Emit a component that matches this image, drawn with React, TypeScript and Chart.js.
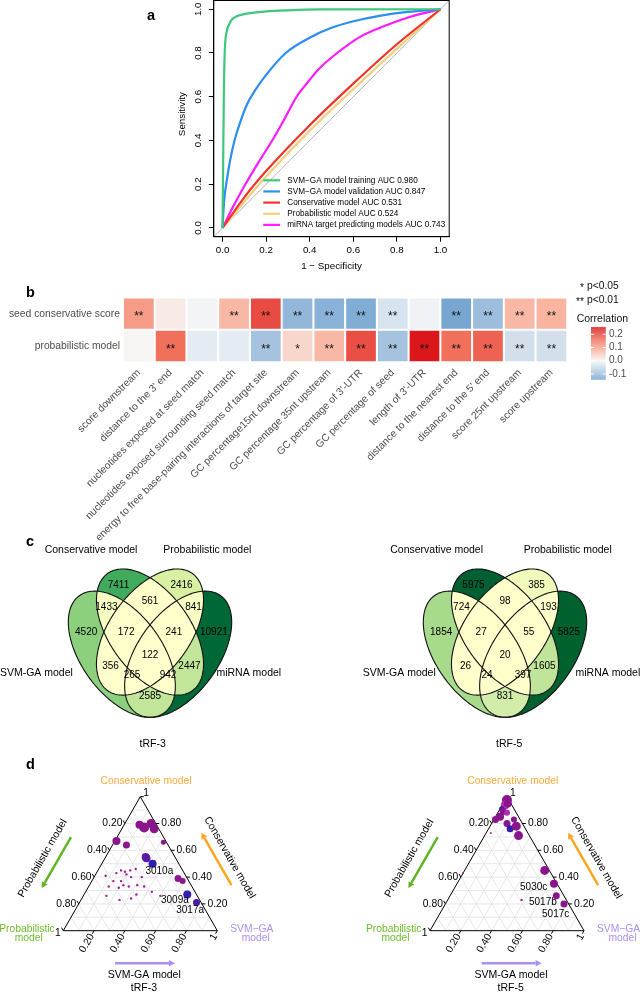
import React, { useEffect, useRef } from "react";
import { Chart, registerables } from "chart.js";

Chart.register(...registerables);

const FONT = "'Liberation Sans', Arial, Helvetica, sans-serif";
Chart.defaults.font.family = FONT;

/* ================= Panel a : ROC curves ================= */
const rocTicks = [0, 0.2, 0.4, 0.6, 0.8, 1.0];
const rocAxisMin = -0.04;
const rocAxisMax = 1.04;
const rocNames = [
  "SVM−GA model training AUC 0.980",
  "SVM−GA model validation AUC 0.847",
  "Conservative model AUC 0.531",
  "Probabilistic model AUC 0.524",
  "miRNA target predicting models AUC 0.743",
];
const svmTrainFpr = [0, 0.003, 0.006, 0.01, 0.02, 0.03, 0.045, 0.07, 0.11, 0.2, 0.3, 0.45, 1];
const svmTrainTpr = [0, 0.3, 0.6, 0.8, 0.9, 0.93, 0.955, 0.97, 0.98, 0.99, 0.995, 0.999, 1];
const svmValFpr = [0, 0.005, 0.01, 0.02, 0.035, 0.055, 0.08, 0.11, 0.15, 0.2, 0.29, 0.4, 0.5, 0.6, 0.72, 0.85, 1];
const svmValTpr = [0, 0.09, 0.15, 0.22, 0.31, 0.4, 0.48, 0.56, 0.63, 0.7, 0.8, 0.87, 0.915, 0.945, 0.97, 0.988, 1];
const consFpr = [0, 0.1, 0.2, 0.4, 0.6, 0.8, 1];
const consTpr = [0, 0.14, 0.26, 0.47, 0.66, 0.84, 1];
const probFpr = [0, 0.1, 0.2, 0.4, 0.6, 0.8, 1];
const probTpr = [0, 0.12, 0.235, 0.445, 0.635, 0.82, 1];
const mirFpr = [0, 0.02, 0.05, 0.105, 0.165, 0.228, 0.285, 0.34, 0.39, 0.44, 0.526, 0.633, 0.755, 0.862, 1];
const mirTpr = [0, 0.04, 0.1, 0.2, 0.3, 0.4, 0.5, 0.6, 0.665, 0.725, 0.8, 0.875, 0.928, 0.966, 1];
const rocFpr = [svmTrainFpr, svmValFpr, consFpr, probFpr, mirFpr];
const rocTpr = [svmTrainTpr, svmValTpr, consTpr, probTpr, mirTpr];
const diagonalX = [rocAxisMin, rocAxisMax];
const diagonalY = [rocAxisMin, rocAxisMax];
const rocColors = ["#3ec87c", "#2b8ef2", "#f5312c", "#f1d17f", "#ff1aff"];

/* ================= Panel b : correlation heatmap ================= */
const featureNames = [
  "score downstream",
  "distance to the 3' end",
  "nucleotides exposed at seed match",
  "nucleotides exposed surrounding seed match",
  "energy to free base-pairing interactions of target site",
  "GC percentage15nt downstream",
  "GC percentage 35nt upstream",
  "GC percentage of 3'-UTR",
  "GC percentage of seed",
  "length of 3'-UTR",
  "distance to the nearest end",
  "distance to the 5' end",
  "score 25nt upstream",
  "score upstream",
];
const rowNames = ["seed conservative score", "probabilistic model"];
const seedCorr = [0.11, 0.015, -0.005, 0.075, 0.2, -0.11, -0.12, -0.13, -0.035, -0.008, -0.14, -0.1, 0.075, 0.08];
const probCorr = [0.003, 0.16, -0.02, -0.02, -0.09, 0.04, 0.075, 0.195, -0.09, 0.255, 0.16, 0.175, -0.04, -0.04];
const seedSig = ["**", "", "", "**", "**", "**", "**", "**", "**", "", "**", "**", "**", "**"];
const probSig = ["", "**", "", "", "**", "*", "**", "**", "**", "**", "**", "**", "**", "**"];
const rowTickValues = [0.5, 1.5];
const colorbarTicks = [0.2, 0.1, 0.0, -0.1];
const corrStops = [-0.145, 0, 0.08, 0.16, 0.255];
const corrStopColors = ["#73a3d0", "#f7f7f7", "#f9b4a0", "#f0705c", "#dc171c"];

/* ================= Panel c : Venn diagrams ================= */
const vennSetNames = ["Conservative model", "Probabilistic model", "SVM-GA model", "miRNA model"];
const ellipseCx = [0.35, 0.5, 0.5, 0.65];
const ellipseCy = [0.47, 0.57, 0.57, 0.47];
const ellipseA = 0.35;
const ellipseB = 0.2;
const ellipseAngle = [-45, -45, 45, 45];
const regionU = [0.332, 0.668, 0.5, 0.268, 0.732, 0.16, 0.373, 0.627, 0.84, 0.5, 0.29, 0.71, 0.404, 0.596, 0.5];
const regionV = [0.78, 0.78, 0.71, 0.682, 0.682, 0.569, 0.569, 0.569, 0.569, 0.466, 0.417, 0.417, 0.373, 0.373, 0.278];
const tRF3Counts = [7411, 2416, 561, 1433, 841, 4520, 172, 241, 10921, 122, 356, 2447, 265, 942, 2585];
const tRF5Counts = [5975, 385, 98, 724, 193, 1854, 27, 55, 5825, 20, 26, 1605, 24, 397, 831];
const tRF3RegionColors = ["#41ab5d", "#d9f0a3", "#ffffcc", "#f7fcc2", "#f7fcc2", "#8ccf7d", "#ffffcc", "#ffffcc", "#006837", "#ffffcc", "#ffffcc", "#c2e699", "#ffffcc", "#ffffcc", "#c2e699"];
const tRF5RegionColors = ["#005f33", "#f1f9bb", "#ffffcc", "#ffffcc", "#ffffcc", "#a8da8c", "#ffffcc", "#ffffcc", "#00612f", "#ffffcc", "#ffffcc", "#c0e49a", "#ffffcc", "#ffffcc", "#d2ecaa"];
const tRF3SetU = [0.186, 0.805, -0.105, 1.026];
const tRF3SetV = [0.94, 0.94, 0.385, 0.385];
const tRF5SetU = [0.136, 0.834, -0.063, 1.048];
const tRF5SetV = [0.941, 0.941, 0.384, 0.384];
const vennTitleU = [0.514, 0.522];
const vennTitleV = [0.064, 0.064];

/* ================= Panel d : ternary plots ================= */
const ternTicks = [0.2, 0.4, 0.6, 0.8, 1];
const ternTickLabels = ["0.20", "0.40", "0.60", "0.80", "1"];
const ternGrid = [0.1, 0.2, 0.3, 0.4, 0.5, 0.6, 0.7, 0.8, 0.9];

const t3Cons = [0.79, 0.77, 0.8, 0.76, 0.67, 0.64, 0.66, 0.55, 0.54, 0.5, 0.39, 0.37, 0.27, 0.21,
  0.41, 0.33, 0.43, 0.45, 0.44, 0.45, 0.46, 0.42, 0.4, 0.37, 0.32, 0.34, 0.33, 0.34, 0.4, 0.33, 0.29, 0.26, 0.26, 0.23, 0.24, 0.27, 0.37];
const t3Prob = [0.11, 0.09, 0.03, 0.03, 0.32, 0.27, 0.02, 0.19, 0.19, 0.17, 0.06, 0.04, 0.06, 0.03,
  0.52, 0.54, 0.44, 0.4, 0.38, 0.34, 0.3, 0.38, 0.36, 0.49, 0.48, 0.44, 0.41, 0.35, 0.29, 0.31, 0.28, 0.24, 0.59, 0.52, 0.44, 0.39, 0.44];
const t3Svm = [0.1, 0.14, 0.17, 0.21, 0.01, 0.09, 0.32, 0.26, 0.27, 0.33, 0.55, 0.59, 0.67, 0.76,
  0.07, 0.13, 0.13, 0.15, 0.18, 0.21, 0.24, 0.2, 0.24, 0.14, 0.2, 0.22, 0.26, 0.31, 0.31, 0.36, 0.43, 0.5, 0.15, 0.25, 0.32, 0.34, 0.19];
const t3Names = ["", "", "", "", "", "", "", "", "", "3010a", "", "", "3009a", "3017a",
  "", "", "", "", "", "", "", "", "", "", "", "", "", "", "", "", "", "", "", "", "", "", ""];
const t3Size = [4, 5, 4.5, 4.5, 4, 3.5, 2.5, 4, 4, 4, 3.5, 3, 4, 3.5,
  1.2, 1.2, 1.2, 1.2, 1.2, 1.2, 1.2, 1.2, 1.2, 1.2, 1.2, 1.2, 1.2, 1.2, 1.2, 1.2, 1.2, 1.2, 1.2, 1.2, 1.2, 1.2, 1.2];
const PUR = "#8a168c", VIO = "#5b1aa8", BLU = "#2f1fb4", VI2 = "#4a1aa6", MAG = "#a0209a", PNK = "#b02cb0";
const t3Color = [PUR, PUR, PUR, PUR, PUR, PUR, PUR, VIO, VIO, BLU, PUR, PUR, BLU, VI2,
  MAG, MAG, MAG, MAG, MAG, MAG, MAG, MAG, MAG, MAG, MAG, MAG, MAG, MAG, MAG, MAG, MAG, MAG, MAG, MAG, MAG, MAG, MAG];

const t5Cons = [0.975, 0.94, 0.95, 0.91, 0.89, 0.85, 0.83, 0.88, 0.83, 0.8, 0.76, 0.78, 0.71, 0.73, 0.45, 0.35, 0.26, 0.2, 0.23, 0.43];
const t5Prob = [0.013, 0.04, 0.02, 0.08, 0.08, 0.12, 0.16, 0.06, 0.04, 0.1, 0.1, 0.05, 0.07, 0.24, 0.03, 0.02, 0.05, 0.03, 0.29, 0.57];
const t5Svm = [0.012, 0.02, 0.03, 0.01, 0.03, 0.03, 0.01, 0.06, 0.13, 0.1, 0.14, 0.17, 0.22, 0.03, 0.52, 0.63, 0.69, 0.77, 0.48, 0.0];
const t5Names = ["", "", "", "", "", "", "", "", "", "", "", "", "", "", "", "5030c", "5017b", "5017c", "", ""];
const t5Size = [5, 4.5, 4, 2.5, 3.5, 4, 3.5, 3, 3, 3.5, 3.5, 4.5, 4.5, 1, 4.5, 4, 3.5, 3.5, 1.2, 1];
const t5Color = [PUR, PNK, PUR, BLU, PUR, PUR, PUR, PNK, PUR, PUR, BLU, PUR, PUR, MAG, PUR, PUR, PUR, PUR, MAG, MAG];
const pointLabelOffsets: Record<string, number[]> = {
  "3010a": [6.7, 7.7],
  "3009a": [-12.4, 5.7],
  "3017a": [-6.4, 7.3],
  "5030c": [-20.3, 3.3],
  "5017b": [-13.4, 6.6],
  "5017c": [-8.3, 10],
};

/* ================= helpers ================= */
function hexToRgb(h: string) {
  const n = parseInt(h.slice(1), 16);
  return [(n >> 16) & 255, (n >> 8) & 255, n & 255];
}
function corrColor(v: number) {
  const s = corrStops;
  if (v <= s[0]) return corrStopColors[0];
  if (v >= s[s.length - 1]) return corrStopColors[s.length - 1];
  let i = 0;
  while (v > s[i + 1]) i++;
  const t = (v - s[i]) / (s[i + 1] - s[i]);
  const a = hexToRgb(corrStopColors[i]);
  const b = hexToRgb(corrStopColors[i + 1]);
  const c = a.map((x, k) => Math.round(x + (b[k] - x) * t));
  return `rgb(${c[0]},${c[1]},${c[2]})`;
}
function drawLetter(ctx: any, letter: string, x: number, y: number) {
  ctx.save();
  ctx.fillStyle = "#000";
  ctx.font = `bold 14.5px ${FONT}`;
  ctx.textAlign = "left";
  ctx.textBaseline = "middle";
  ctx.fillText(letter, x, y);
  ctx.restore();
}
const SQ = Math.sqrt(3) / 2;
function ternXY(c: number, p: number, s: number) {
  const t = c + p + s;
  return { x: (s + c / 2) / t, y: (c * SQ) / t };
}
function arrow(ctx: any, x1: number, y1: number, x2: number, y2: number, color: string) {
  const ang = Math.atan2(y2 - y1, x2 - x1);
  const hl = 6, hw = 3.3;
  const bx = x2 - hl * Math.cos(ang), by = y2 - hl * Math.sin(ang);
  ctx.save();
  ctx.strokeStyle = color;
  ctx.lineWidth = 2.4;
  ctx.beginPath();
  ctx.moveTo(x1, y1);
  ctx.lineTo(bx, by);
  ctx.stroke();
  ctx.fillStyle = color;
  ctx.beginPath();
  ctx.moveTo(x2, y2);
  ctx.lineTo(bx - hw * Math.sin(ang), by + hw * Math.cos(ang));
  ctx.lineTo(bx + hw * Math.sin(ang), by - hw * Math.cos(ang));
  ctx.closePath();
  ctx.fill();
  ctx.restore();
}

/* ================= configs ================= */
function makeRocConfig() {
  const datasets: any[] = rocNames.map((name, i) => ({
    label: name,
    data: rocFpr[i].map((x, j) => ({ x, y: rocTpr[i][j] })),
    borderColor: rocColors[i],
    borderWidth: 2.2,
    pointRadius: 0,
    fill: false,
    cubicInterpolationMode: "monotone",
    inLegend: true,
  }));
  datasets.push({
    label: "reference",
    data: diagonalX.map((x, j) => ({ x, y: diagonalY[j] })),
    borderColor: "#b4b4b4",
    borderWidth: 1,
    pointRadius: 0,
    fill: false,
    inLegend: false,
  });
  const plugin = {
    id: "rocDecor",
    afterDraw(chart: any) {
      const { ctx, chartArea: ca, scales } = chart;
      ctx.save();
      ctx.strokeStyle = "#000";
      ctx.lineWidth = 1;
      ctx.strokeRect(ca.left, ca.top, ca.right - ca.left, ca.bottom - ca.top);
      ctx.fillStyle = "#000";
      ctx.font = `9.8px ${FONT}`;
      ctx.textAlign = "center";
      ctx.textBaseline = "middle";
      rocTicks.forEach((v) => {
        const y = scales.y.getPixelForValue(v);
        ctx.save();
        ctx.translate(ca.left - 15.5, y);
        ctx.rotate(-Math.PI / 2);
        ctx.fillText(v.toFixed(1), 0, 0);
        ctx.restore();
      });
      ctx.save();
      ctx.translate(ca.left - 31.1, (ca.top + ca.bottom) / 2 - 4.5);
      ctx.rotate(-Math.PI / 2);
      ctx.fillText("Sensitivity", 0, 0);
      ctx.restore();
      ctx.font = `8.2px ${FONT}`;
      ctx.textAlign = "left";
      const x0 = 123.3, y0 = 180.3, dy = 11.15;
      chart.data.datasets
        .filter((d: any) => d.inLegend)
        .forEach((d: any, i: number) => {
          const y = y0 + i * dy;
          ctx.strokeStyle = d.borderColor;
          ctx.lineWidth = 2.2;
          ctx.beginPath();
          ctx.moveTo(x0, y);
          ctx.lineTo(x0 + 16.7, y);
          ctx.stroke();
          ctx.fillStyle = "#000";
          ctx.fillText(d.label, x0 + 24, y);
        });
      ctx.restore();
      drawLetter(ctx, "a", 7, 16);
    },
  };
  return {
    type: "line",
    data: { datasets },
    options: {
      animation: false,
      responsive: false,
      layout: { padding: { left: 36.4, top: 0.5, right: 30.8, bottom: 0 } },
      plugins: { legend: { display: false }, tooltip: { enabled: false } },
      scales: {
        x: {
          type: "linear",
          min: rocAxisMin,
          max: rocAxisMax,
          afterBuildTicks: (s: any) => {
            s.ticks = rocTicks.map((v) => ({ value: v }));
          },
          afterFit: (s: any) => {
            s.height = 35.3;
          },
          ticks: {
            color: "#000",
            font: { size: 9.8, family: FONT },
            padding: 3,
            maxRotation: 0,
            autoSkip: false,
            callback: (v: any) => Number(v).toFixed(1),
          },
          grid: { display: true, drawOnChartArea: false, drawTicks: true, tickLength: 5, color: "#000", lineWidth: 1 },
          border: { display: true, color: "#000", width: 1 },
          title: { display: true, text: "1 − Specificity", color: "#000", font: { size: 9.8, family: FONT }, padding: { top: 0, bottom: 0 } },
        },
        y: {
          type: "linear",
          min: rocAxisMin,
          max: rocAxisMax,
          afterBuildTicks: (s: any) => {
            s.ticks = rocTicks.map((v) => ({ value: v }));
          },
          afterFit: (s: any) => {
            s.width = 37.4;
          },
          ticks: { display: false },
          grid: { display: true, drawOnChartArea: false, drawTicks: true, tickLength: 5, color: "#000", lineWidth: 1 },
          border: { display: true, color: "#000", width: 1 },
        },
      },
    },
    plugins: [plugin],
  };
}

function makeHeatConfig() {
  const plugin = {
    id: "heatDecor",
    afterDatasetsDraw(chart: any) {
      const { ctx } = chart;
      ctx.save();
      ctx.fillStyle = "#111";
      ctx.font = `12px ${FONT}`;
      ctx.textAlign = "center";
      ctx.textBaseline = "alphabetic";
      chart.data.datasets.forEach((ds: any, di: number) => {
        const meta = chart.getDatasetMeta(di);
        meta.data.forEach((el: any, j: number) => {
          const s = ds.sig[j];
          if (!s) return;
          const cy = (el.y + el.base) / 2;
          ctx.fillText(s, el.x, cy + 6.8);
        });
      });
      ctx.restore();
    },
    afterDraw(chart: any) {
      const { ctx } = chart;
      ctx.save();
      ctx.fillStyle = "#111";
      ctx.font = `10.3px ${FONT}`;
      ctx.textBaseline = "alphabetic";
      ctx.textAlign = "right";
      ctx.fillText("*", 584, 13);
      ctx.fillText("**", 584, 26.7);
      ctx.textAlign = "left";
      ctx.textBaseline = "middle";
      ctx.fillText("p<0.05", 587, 8);
      ctx.fillText("p<0.01", 587, 21.7);
      ctx.font = `10.5px ${FONT}`;
      ctx.fillText("Correlation", 576.7, 40.7);
      const all = seedCorr.concat(probCorr);
      const vmin = Math.min(...all), vmax = Math.max(...all);
      const yv = (v: number) => 82.7 - v * 132;
      const x0 = 591, x1 = 605.7;
      const top = yv(vmax), bot = yv(vmin);
      for (let y = top; y < bot; y += 0.5) {
        const v = vmax - ((y - top) / (bot - top)) * (vmax - vmin);
        ctx.fillStyle = corrColor(v);
        ctx.fillRect(x0, y, x1 - x0, 0.6);
      }
      ctx.strokeStyle = "#fff";
      ctx.lineWidth = 1;
      ctx.fillStyle = "#4d4d4d";
      ctx.font = `10px ${FONT}`;
      colorbarTicks.forEach((v) => {
        const y = yv(v);
        ctx.beginPath();
        ctx.moveTo(x0, y);
        ctx.lineTo(x0 + 3, y);
        ctx.moveTo(x1 - 3, y);
        ctx.lineTo(x1, y);
        ctx.stroke();
        ctx.fillText(v.toFixed(1), 609, y);
      });
      ctx.restore();
      drawLetter(ctx, "b", 26, 15);
    },
  };
  return {
    type: "bar",
    data: {
      labels: featureNames,
      datasets: [
        { label: rowNames[1], data: featureNames.map(() => 1), backgroundColor: probCorr.map(corrColor), sig: probSig },
        { label: rowNames[0], data: featureNames.map(() => 1), backgroundColor: seedCorr.map(corrColor), sig: seedSig },
      ],
    },
    options: {
      animation: false,
      responsive: false,
      layout: { padding: { left: 0, right: 72.7, top: 19.5, bottom: 0 } },
      plugins: { legend: { display: false }, tooltip: { enabled: false } },
      datasets: {
        bar: { barPercentage: 1, categoryPercentage: 1, borderColor: "#ffffff", borderWidth: 1.35, borderSkipped: false },
      },
      scales: {
        x: {
          stacked: true,
          grid: { display: false, drawTicks: false },
          border: { display: false },
          ticks: { autoSkip: false, minRotation: 45, maxRotation: 45, color: "#4d4d4d", font: { size: 10.3, family: FONT }, padding: 4.6 },
          afterFit: (s: any) => {
            s.height = 197.8;
          },
        },
        y: {
          stacked: true,
          min: 0,
          max: 2,
          grid: { display: false, drawTicks: false },
          border: { display: false },
          afterBuildTicks: (s: any) => {
            s.ticks = rowTickValues.map((v) => ({ value: v }));
          },
          ticks: {
            color: "#4d4d4d",
            font: { size: 10.3, family: FONT },
            padding: 3,
            callback: (_v: any, i: number) => rowNames[rowNames.length - 1 - i],
          },
          afterFit: (s: any) => {
            s.width = 123;
          },
        },
      },
    },
    plugins: [plugin],
  };
}

function ellipseInside(k: number, u: number, v: number) {
  const th = (ellipseAngle[k] * Math.PI) / 180;
  const du = u - ellipseCx[k], dv = v - ellipseCy[k];
  const p1 = du * Math.cos(th) + dv * Math.sin(th);
  const p2 = -du * Math.sin(th) + dv * Math.cos(th);
  return (p1 * p1) / (ellipseA * ellipseA) + (p2 * p2) / (ellipseB * ellipseB) <= 1;
}

function makeVennConfig(counts: number[], colors: string[], setU: number[], setV: number[], title: string, ti: number, padding: any, letter: string | null) {
  const plugin = {
    id: "venn",
    beforeDatasetsDraw(chart: any) {
      const { ctx } = chart;
      const X = chart.scales.x, Y = chart.scales.y;
      const W = chart.width, H = chart.height;
      const addEllipse = (k: number) => {
        const th = (ellipseAngle[k] * Math.PI) / 180;
        const N = 200;
        for (let i = 0; i <= N; i++) {
          const t = (i / N) * 2 * Math.PI;
          const ex = ellipseA * Math.cos(t), ey = ellipseB * Math.sin(t);
          const u = ellipseCx[k] + ex * Math.cos(th) - ey * Math.sin(th);
          const v = ellipseCy[k] + ex * Math.sin(th) + ey * Math.cos(th);
          const px = X.getPixelForValue(u), py = Y.getPixelForValue(v);
          if (i === 0) ctx.moveTo(px, py);
          else ctx.lineTo(px, py);
        }
        ctx.closePath();
      };
      const ds = chart.data.datasets[0];
      ds.data.forEach((pt: any, i: number) => {
        const mask = ellipseCx.map((_, k) => ellipseInside(k, pt.x, pt.y));
        ctx.save();
        mask.forEach((m, k) => {
          ctx.beginPath();
          if (!m) ctx.rect(-5, -5, W + 10, H + 10);
          addEllipse(k);
          ctx.clip(m ? "nonzero" : "evenodd");
        });
        ctx.fillStyle = ds.regionColors[i];
        ctx.fillRect(-5, -5, W + 10, H + 10);
        ctx.restore();
      });
      ctx.save();
      ctx.strokeStyle = "#111";
      ctx.lineWidth = 1.1;
      ellipseCx.forEach((_, k) => {
        ctx.beginPath();
        addEllipse(k);
        ctx.stroke();
      });
      ctx.restore();
    },
    afterDatasetsDraw(chart: any) {
      const { ctx } = chart;
      const X = chart.scales.x, Y = chart.scales.y;
      const ds = chart.data.datasets[0];
      const meta = chart.getDatasetMeta(0);
      ctx.save();
      ctx.fillStyle = "#000";
      ctx.textAlign = "center";
      ctx.textBaseline = "middle";
      ctx.font = `10px ${FONT}`;
      meta.data.forEach((el: any, i: number) => {
        ctx.fillText(String(ds.counts[i]), el.x, el.y);
      });
      ctx.font = `10.5px ${FONT}`;
      vennSetNames.forEach((name, k) => {
        ctx.fillText(name, X.getPixelForValue(setU[k]), Y.getPixelForValue(setV[k]));
      });
      ctx.fillText(title, X.getPixelForValue(vennTitleU[ti]), Y.getPixelForValue(vennTitleV[ti]));
      ctx.restore();
      if (letter) drawLetter(ctx, letter, 26, 11.7);
    },
  };
  return {
    type: "scatter",
    data: {
      datasets: [
        {
          data: regionU.map((u, i) => ({ x: u, y: regionV[i] })),
          pointRadius: 0,
          counts,
          regionColors: colors,
        },
      ],
    },
    options: {
      animation: false,
      responsive: false,
      layout: { padding },
      plugins: { legend: { display: false }, tooltip: { enabled: false } },
      scales: {
        x: { type: "linear", min: 0, max: 1, display: false },
        y: { type: "linear", min: 0, max: 1, display: false },
      },
    },
    plugins: [plugin],
  };
}

function makeTernConfig(cons: number[], prob: number[], svm: number[], size: number[], color: string[], names: string[], title: string, padding: any, letter: string | null) {
  const plugin = {
    id: "tern",
    beforeDatasetsDraw(chart: any) {
      const { ctx } = chart;
      const X = chart.scales.x, Y = chart.scales.y;
      const P = (c: number, p: number, s: number) => {
        const q = ternXY(c, p, s);
        return [X.getPixelForValue(q.x), Y.getPixelForValue(q.y)];
      };
      const seg = (a: number[], b: number[]) => {
        ctx.beginPath();
        ctx.moveTo(a[0], a[1]);
        ctx.lineTo(b[0], b[1]);
        ctx.stroke();
      };
      ctx.save();
      ctx.strokeStyle = "#e1e1e1";
      ctx.lineWidth = 0.8;
      ternGrid.forEach((g) => {
        seg(P(g, 1 - g, 0), P(g, 0, 1 - g));
        seg(P(1 - g, g, 0), P(0, g, 1 - g));
        seg(P(1 - g, 0, g), P(0, 1 - g, g));
      });
      const T = P(1, 0, 0), L = P(0, 1, 0), R = P(0, 0, 1);
      ctx.strokeStyle = "#000";
      ctx.lineWidth = 1;
      ctx.beginPath();
      ctx.moveTo(T[0], T[1]);
      ctx.lineTo(L[0], L[1]);
      ctx.lineTo(R[0], R[1]);
      ctx.closePath();
      ctx.stroke();
      ctx.fillStyle = "#000";
      ctx.font = `10.3px ${FONT}`;
      ctx.textBaseline = "middle";
      ternTicks.forEach((v, i) => {
        const lab = ternTickLabels[i];
        const e1 = P(v, 0, 1 - v);
        seg(e1, [e1[0] + 3.5, e1[1]]);
        ctx.textAlign = "left";
        if (v === 1) ctx.fillText(lab, e1[0] + 3, e1[1] - 4);
        else ctx.fillText(lab, e1[0] + 5.5, e1[1]);
        const e2 = P(1 - v, v, 0);
        seg(e2, [e2[0] - 1.75, e2[1] - 3.5 * SQ]);
        ctx.textAlign = "right";
        ctx.fillText(lab, e2[0] - 2.5, e2[1] + (v === 1 ? 2 : 0));
        const e3 = P(0, 1 - v, v);
        seg(e3, [e3[0] - 1.75, e3[1] + 3.5 * SQ]);
        ctx.save();
        ctx.translate(e3[0] - 2.2, e3[1] + 3.9);
        ctx.rotate(-Math.PI / 3);
        ctx.textAlign = "right";
        ctx.fillText(lab, 0, 0);
        ctx.restore();
      });
      ctx.textAlign = "center";
      ctx.fillStyle = "#ffa93a";
      ctx.fillText("Conservative model", T[0] + 5.7, T[1] - 15.7);
      ctx.fillStyle = "#6cbf2c";
      ctx.fillText("Probabilistic", L[0] - 36.3, L[1] - 1.7);
      ctx.fillText("model", L[0] - 34.5, L[1] + 7.6);
      ctx.fillStyle = "#ad8ff3";
      ctx.fillText("SVM−GA", R[0] + 34.5, R[1] - 1.7);
      ctx.fillText("model", R[0] + 38.5, R[1] + 7.6);
      const len = Math.hypot(L[0] - T[0], L[1] - T[1]);
      const dTL = [(L[0] - T[0]) / len, (L[1] - T[1]) / len];
      const nL = [-dTL[1], dTL[0]];
      const at = (o: number[], d: number[], n: number[], f: number, off: number) => [o[0] + d[0] * f * len + n[0] * off, o[1] + d[1] * f * len + n[1] * off];
      const a1 = at(T, dTL, nL, 0.45, 40), a2 = at(T, dTL, nL, 0.83, 40);
      arrow(ctx, a1[0], a1[1], a2[0], a2[1], "#5cb521");
      const tl = at(T, dTL, nL, 0.66, 54);
      ctx.fillStyle = "#000";
      ctx.font = `10.5px ${FONT}`;
      ctx.save();
      ctx.translate(tl[0], tl[1]);
      ctx.rotate(Math.atan2(T[1] - L[1], T[0] - L[0]));
      ctx.fillText("Probabilistic model", 0, 0);
      ctx.restore();
      const dRT = [(T[0] - R[0]) / len, (T[1] - R[1]) / len];
      const nR = [-dRT[1], dRT[0]];
      const b1 = at(R, dRT, nR, 0.21, 35), b2 = at(R, dRT, nR, 0.6, 35);
      arrow(ctx, b1[0], b1[1], b2[0], b2[1], "#ffa41b");
      const tr = at(R, dRT, nR, 0.37, 47);
      ctx.save();
      ctx.translate(tr[0], tr[1]);
      ctx.rotate(Math.atan2(R[1] - T[1], R[0] - T[0]));
      ctx.fillText("Conservative model", 0, 0);
      ctx.restore();
      const w = R[0] - L[0];
      arrow(ctx, L[0] + 0.336 * w, L[1] + 32.6, L[0] + 0.725 * w, L[1] + 32.6, "#ae8ef5");
      ctx.fillStyle = "#000";
      ctx.fillText("SVM-GA model", L[0] + 0.526 * w, L[1] + 44.3);
      ctx.fillText(title, L[0] + 0.524 * w, L[1] + 57);
      ctx.restore();
      if (letter) drawLetter(ctx, letter, 26, 15);
    },
    afterDatasetsDraw(chart: any) {
      const { ctx } = chart;
      const meta = chart.getDatasetMeta(0);
      ctx.save();
      ctx.fillStyle = "#000";
      ctx.font = `10px ${FONT}`;
      ctx.textAlign = "center";
      ctx.textBaseline = "middle";
      meta.data.forEach((el: any, i: number) => {
        const nm = names[i];
        if (!nm) return;
        const off = pointLabelOffsets[nm] || [0, 0];
        ctx.fillText(nm, el.x + off[0], el.y + off[1]);
      });
      ctx.restore();
    },
  };
  return {
    type: "scatter",
    data: {
      datasets: [
        {
          data: cons.map((c, i) => ternXY(c, prob[i], svm[i])),
          pointRadius: size,
          pointBackgroundColor: color,
          pointBorderWidth: 0,
          pointBorderColor: "rgba(0,0,0,0)",
          clip: false,
        },
      ],
    },
    options: {
      animation: false,
      responsive: false,
      layout: { padding },
      plugins: { legend: { display: false }, tooltip: { enabled: false } },
      scales: {
        x: { type: "linear", min: 0, max: 1, display: false },
        y: { type: "linear", min: 0, max: SQ, display: false },
      },
    },
    plugins: [plugin],
  };
}

/* ================= React ================= */
function ChartCanvas(props: { left: number; top: number; width: number; height: number; make: () => any }) {
  const ref = useRef<HTMLCanvasElement | null>(null);
  useEffect(() => {
    const el = ref.current;
    if (!el) return;
    const chart = new Chart(el, props.make());
    return () => chart.destroy();
  }, []);
  return (
    <canvas
      ref={ref}
      width={props.width}
      height={props.height}
      style={{ position: "absolute", left: props.left, top: props.top, width: props.width, height: props.height }}
    />
  );
}

export default function App() {
  return (
    <div style={{ position: "absolute", left: 0, top: 0, width: 640, height: 992, background: "#fff", overflow: "hidden" }}>
      <ChartCanvas left={140} top={0} width={340} height={272} make={makeRocConfig} />
      <ChartCanvas left={0} top={278} width={640} height={282} make={makeHeatConfig} />
      <ChartCanvas
        left={0}
        top={530}
        width={330}
        height={240}
        make={() => makeVennConfig(tRF3Counts, tRF3RegionColors, tRF3SetU, tRF3SetV, "tRF-3", 0, { left: 56.1, right: 86.1, top: 6.9, bottom: 11.8 }, "c")}
      />
      <ChartCanvas
        left={330}
        top={530}
        width={310}
        height={240}
        make={() => makeVennConfig(tRF5Counts, tRF5RegionColors, tRF5SetU, tRF5SetV, "tRF-5", 1, { left: 81.1, right: 41.1, top: 6.9, bottom: 11.8 }, null)}
      />
      <ChartCanvas
        left={0}
        top={750}
        width={330}
        height={242}
        make={() => makeTernConfig(t3Cons, t3Prob, t3Svm, t3Size, t3Color, t3Names, "tRF-3", { left: 63.3, right: 112.7, top: 46.7, bottom: 61.3 }, "d")}
      />
      <ChartCanvas
        left={330}
        top={750}
        width={310}
        height={242}
        make={() => makeTernConfig(t5Cons, t5Prob, t5Svm, t5Size, t5Color, t5Names, "tRF-5", { left: 100, right: 56, top: 46.7, bottom: 61.3 }, null)}
      />
    </div>
  );
}
